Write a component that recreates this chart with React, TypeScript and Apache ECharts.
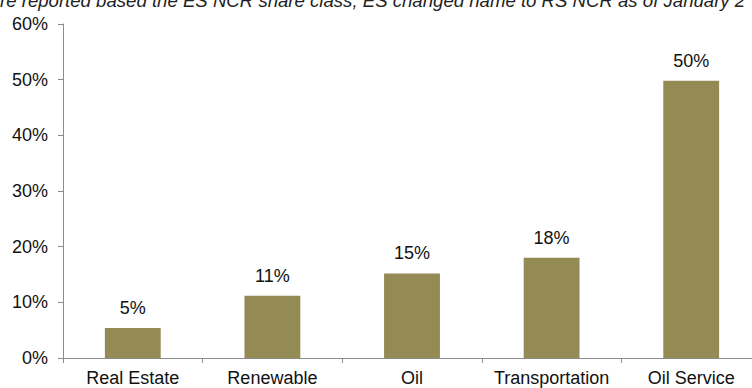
import React, { useEffect, useRef } from "react";
import * as echarts from "echarts";

const categories = ["Real Estate", "Renewable", "Oil", "Transportation", "Oil Service"];
const values = [5.4, 11.2, 15.2, 18.0, 49.8];
const valueLabels = ["5%", "11%", "15%", "18%", "50%"];
const noteText = "re reported based the ES NCR share class; ES changed name to RS NCR as of January 2";

const FONT = "Arial, 'Liberation Sans', Helvetica, sans-serif";

export default function App() {
  const ref = useRef<HTMLDivElement>(null);
  useEffect(() => {
    document.body.style.margin = "0";
    const chart = echarts.init(ref.current!, null, { renderer: "svg" });
    chart.setOption({
      animation: false,
      backgroundColor: "#ffffff",
      grid: { left: 63, right: 0, top: 24, bottom: 30, containLabel: false },
      graphic: [
        {
          type: "text",
          x: 0,
          y: 0,
          style: {
            text: noteText,
            font: "italic 18.6px " + FONT,
            fill: "#222222",
            verticalAlign: "middle",
            align: "left",
          },
        },
      ],
      xAxis: {
        type: "category",
        data: categories,
        axisLine: { lineStyle: { color: "#8c8c8c", width: 1 } },
        axisTick: { show: true, length: 5, alignWithLabel: false, lineStyle: { color: "#8c8c8c" } },
        axisLabel: { color: "#111111", fontSize: 18, fontFamily: FONT, margin: 11, interval: 0 },
      },
      yAxis: {
        type: "value",
        min: 0,
        max: 60,
        interval: 10,
        axisLine: { show: true, lineStyle: { color: "#8c8c8c", width: 1 } },
        axisTick: { show: true, length: 5, lineStyle: { color: "#8c8c8c" } },
        splitLine: { show: false },
        axisLabel: {
          color: "#111111",
          fontSize: 18,
          fontFamily: FONT,
          margin: 15,
          formatter: (v: number) => v + "%",
        },
      },
      series: [
        {
          type: "bar",
          data: values,
          barWidth: "40%",
          itemStyle: { color: "#948A54" },
          label: {
            show: true,
            position: "top",
            distance: 11,
            color: "#111111",
            fontSize: 18,
            fontFamily: FONT,
            formatter: (p: any) => valueLabels[p.dataIndex],
          },
        },
      ],
    });
    return () => chart.dispose();
  }, []);
  return (
    <div style={{ width: 752, height: 388, overflow: "hidden", position: "relative" }}>
      <div ref={ref} style={{ width: 761, height: 388 }} />
    </div>
  );
}
